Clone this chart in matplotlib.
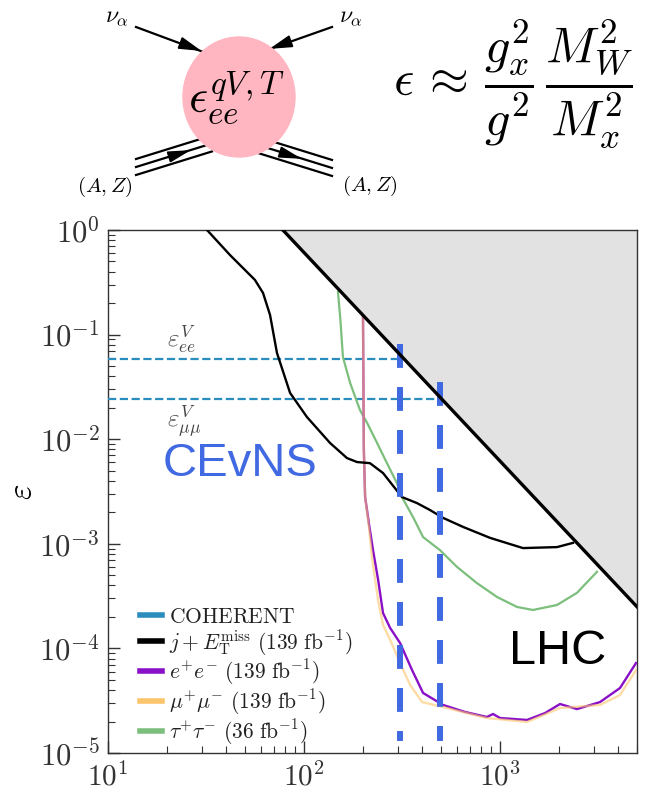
import numpy as np
import matplotlib
matplotlib.use("Agg")
import matplotlib.pyplot as plt
from matplotlib.patches import Ellipse, Polygon
from matplotlib.lines import Line2D
from matplotlib.ticker import FuncFormatter, LogLocator

plt.rcParams['mathtext.fontset'] = 'cm'
plt.rcParams['font.family'] = ['DejaVu Serif']

# ---------------- data ----------------
# boundary of the excluded (grey) region, read at two ends of the straight log-log line
bound_M = [78.0, 5000.0]
bound_eps = [1.0, 2.5e-4]

# COHERENT bounds (horizontal dashed lines)
coh_eps = [0.059, 0.024]
coh_Mmax = [325.0, 505.0]
coh_labels = [r'$\varepsilon^{V}_{ee}$', r'$\varepsilon^{V}_{\mu\mu}$']

# j + E_T^miss (139 fb^-1)
jet_M = [32.0, 41.9, 56.2, 61.8, 67.1, 72.8, 84.9, 103.5, 135.8, 165.7, 186.3,
         217.0, 253.0, 316.0, 377.0, 440.0, 512.0, 648.0, 889.0, 1310.0, 1954.0, 2356.0]
jet_eps = [1.0, 0.577, 0.333, 0.25, 0.154, 0.0667, 0.0277, 0.0163, 0.0092, 0.0066,
           0.00605, 0.0059, 0.00475, 0.0028, 0.00245, 0.0021, 0.00177, 0.00145,
           0.00114, 0.00091, 0.00093, 0.00102]

# tau+ tau- (36 fb^-1)
tau_M = [149.0, 153.0, 158.0, 172.0, 193.0, 210.0, 236.0, 265.0, 298.0, 316.0, 360.0,
         405.0, 494.0, 604.0, 764.0, 966.0, 1222.0, 1473.0, 1954.0, 2471.0, 3126.0]
tau_eps = [0.255, 0.147, 0.061, 0.0344, 0.019, 0.0143, 0.0092, 0.0059, 0.0038, 0.0028,
           0.0018, 0.00116, 0.00087, 0.0006, 0.00042, 0.00031, 0.000249, 0.000233,
           0.00026, 0.00034, 0.00054]

# e+ e- (139 fb^-1)
ee_M = [200.0, 202.0, 205.0, 215.0, 225.0, 239.0, 253.0, 275.0, 309.0, 356.0, 405.0,
        512.0, 662.0, 858.0, 921.0, 1000.0, 1374.0, 1698.0, 2024.0, 2471.0, 3238.0,
        4094.0, 4942.0]
ee_eps = [0.147, 0.0079, 0.0028, 0.00151, 0.00087, 0.00045, 0.000218, 0.000157,
          1.127e-4, 6.2e-5, 3.75e-5, 2.88e-5, 2.47e-5, 2.21e-5, 2.36e-5, 2.16e-5,
          2.07e-5, 2.41e-5, 2.94e-5, 2.63e-5, 3.07e-5, 4.18e-5, 7.24e-5]

# mu+ mu- (139 fb^-1)
mm_M = [200.0, 202.0, 205.0, 214.0, 223.0, 239.0, 253.0, 275.0, 309.0, 348.0, 400.0,
        512.0, 858.0, 1374.0, 2024.0, 3238.0, 4094.0, 4942.0]
mm_eps = [0.147, 0.0079, 0.0028, 0.00151, 0.00070, 0.000286, 0.000168, 0.000121,
          7.24e-5, 4.47e-5, 3.07e-5, 2.75e-5, 2.16e-5, 1.98e-5, 2.69e-5, 2.88e-5,
          3.58e-5, 6.2e-5]

# benchmark masses (thick blue dashed verticals)
bench_M = [310.0, 495.0]
bench_top = [0.081, 0.035]
bench_bottom = 1.3e-5

legend_labels = [r'$\mathrm{COHERENT}$',
                 r'$j + E_{\mathrm{T}}^{\mathrm{miss}}\ (139\ \mathrm{fb}^{-1})$',
                 r'$e^{+}e^{-}\ (139\ \mathrm{fb}^{-1})$',
                 r'$\mu^{+}\mu^{-}\ (139\ \mathrm{fb}^{-1})$',
                 r'$\tau^{+}\tau^{-}\ (36\ \mathrm{fb}^{-1})$']

# ---------------- colours ----------------
c_coh = '#2b8cbe'
c_jet = 'black'
c_ee = '#8a10c8'
c_mm = '#fdc56b'
c_tau = '#7cbf7c'
c_bench = '#4169e1'

W, H = 647, 793
fig = plt.figure(figsize=(W / 100, H / 100), dpi=100)

# ---------------- top illustration ----------------
axd = fig.add_axes([0, 0, 1, 1])
axd.set_xlim(0, W)
axd.set_ylim(H, 0)
axd.axis('off')


def head(ax, tip, direction, length=20, half=5.5):
    d = np.array(direction, float)
    d /= np.hypot(*d)
    n = np.array([-d[1], d[0]])
    t = np.array(tip, float)
    b = t - d * length
    ax.add_patch(Polygon([t, b + n * half, b - n * half], closed=True,
                         color='black', zorder=3))

# neutrino lines
axd.plot([136, 206], [27, 53], color='black', lw=1.6, zorder=2)
head(axd, (199, 50), (64, 24))
axd.plot([332, 264], [27, 51], color='black', lw=1.6, zorder=2)
head(axd, (272, 48), (-56, 20))
# nucleus triple lines
for off in (-8, 0, 8):
    axd.plot([136, 212], [167 + off, 167 + off - 76 * 0.31], color='black', lw=1.6, zorder=2)
    axd.plot([258, 332], [145 + off, 145 + off + 74 * 0.31], color='black', lw=1.6, zorder=2)
head(axd, (188, 151), (1, -0.31), length=20, half=5)
head(axd, (299, 158), (1, 0.31), length=20, half=5)

axd.add_patch(Ellipse((239, 97), 112, 120, color='#ffb6c1', zorder=4))
axd.text(188, 112, r'$\epsilon^{qV,T}_{ee}$', fontsize=34, ha='left', va='baseline', zorder=5)
axd.text(117, 16, r'$\nu_{\alpha}$', fontsize=17, ha='center', va='center')
axd.text(351, 16, r'$\nu_{\alpha}$', fontsize=17, ha='center', va='center')
axd.text(105, 187, r'$(A,Z)$', fontsize=15, ha='center', va='center')
axd.text(370, 186, r'$(A,Z)$', fontsize=15, ha='center', va='center')
axd.text(393, 84, r'$\epsilon\,\approx\,\dfrac{g_x^2}{g^2}\,\dfrac{M_W^2}{M_x^2}$',
         fontsize=36, ha='left', va='center')

# ---------------- main plot ----------------
ax = fig.add_axes([108 / W, 1 - 753 / H, 529 / W, 523 / H])
ax.set_xscale('log')
ax.set_yscale('log')
ax.set_xlim(10, 5000)
ax.set_ylim(1e-5, 1)

ax.fill_between(bound_M, bound_eps, 1.0, color='#e2e2e2', zorder=1, lw=0)
ax.plot(bound_M, bound_eps, color='black', lw=2.4, zorder=6)

for e, mmax in zip(coh_eps, coh_Mmax):
    ax.plot([10, mmax], [e, e], color=c_coh, lw=1.6, ls='--', zorder=3)

ax.plot(jet_M, jet_eps, color=c_jet, lw=1.7, zorder=4)
ax.plot(tau_M, tau_eps, color=c_tau, lw=1.6, zorder=3)
ax.plot(ee_M, ee_eps, color=c_ee, lw=1.7, zorder=3)
ax.plot(mm_M, mm_eps, color=c_mm, lw=1.7, alpha=0.6, zorder=3)

for m, top in zip(bench_M, bench_top):
    ax.plot([m, m], [top, bench_bottom], color=c_bench, lw=4.3,
            dashes=(4.0, 3.2), zorder=5)

ax.text(0.1115, 0.776, coh_labels[0], transform=ax.transAxes, fontsize=18,
        color='#444444', ha='left', va='baseline')
ax.text(0.1115, 0.623, coh_labels[1], transform=ax.transAxes, fontsize=18,
        color='#444444', ha='left', va='baseline')

ax.text(0.104, 0.530, 'CEvNS', transform=ax.transAxes, fontsize=34,
        family='Liberation Sans', color=c_bench, ha='left', va='baseline')
ax.text(0.758, 0.170, 'LHC', transform=ax.transAxes, fontsize=35,
        family='Liberation Sans', color='black', ha='left', va='baseline')

ax.set_ylabel(r'$\varepsilon$', fontsize=24)
ax.yaxis.set_label_coords(-0.132, 0.5)

for s in ax.spines.values():
    s.set_color('#333333')
    s.set_linewidth(1.0)
fmt = FuncFormatter(lambda v, p: r'$10^{%d}$' % int(round(np.log10(v))))
ax.xaxis.set_major_formatter(fmt)
ax.yaxis.set_major_formatter(fmt)
ax.yaxis.set_major_locator(LogLocator(base=10, numticks=10))
ax.yaxis.set_minor_locator(LogLocator(base=10, subs=np.arange(2, 10), numticks=20))
ax.tick_params(which='both', direction='in', top=False, right=False,
               labelsize=22, colors='#333333')
ax.tick_params(which='major', length=8.5, width=1.0)
ax.tick_params(axis='y', which='major', pad=6)
ax.tick_params(axis='x', which='major', pad=6.5, labelsize=21)
ax.tick_params(which='minor', length=5, width=0.8)

handles = [Line2D([], [], color=c, lw=4) for c in (c_coh, c_jet, c_ee, c_mm, c_tau)]
leg = ax.legend(handles, legend_labels, loc='lower left', bbox_to_anchor=(0.06, 0.012),
                frameon=False, fontsize=15.5, handlelength=1.05, handletextpad=0.3,
                labelspacing=0.0, borderaxespad=0.0, borderpad=0.0)
for t in leg.get_texts():
    t.set_color('#222222')

fig.savefig('out.png', dpi=100)
